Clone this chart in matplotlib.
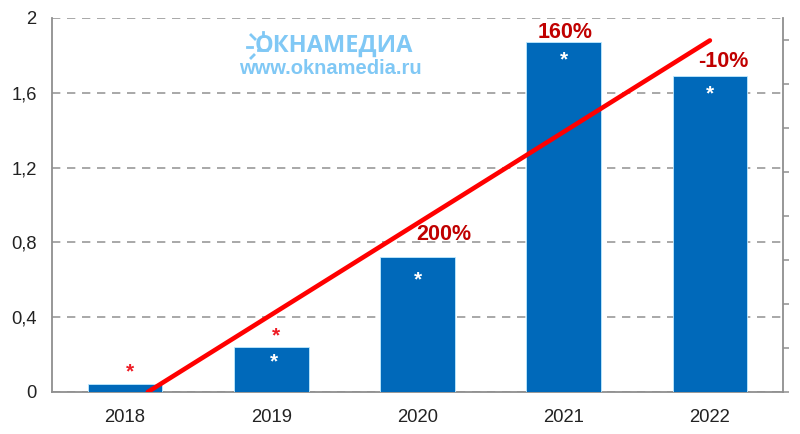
import matplotlib
matplotlib.use("Agg")
import matplotlib.pyplot as plt
from matplotlib.lines import Line2D

plt.rcParams['font.family'] = ['Liberation Sans', 'DejaVu Sans']

years = ['2018', '2019', '2020', '2021', '2022']
values = [0.045, 0.24, 0.72, 1.87, 1.69]
y_ticks = [0, 0.4, 0.8, 1.2, 1.6, 2]
y_labels = ['0', '0,4', '0,8', '1,2', '1,6', '2']
right_ticks = [0, 1, 2, 3, 4, 5, 6, 7, 8]

# trend line, in bar positions / left axis units
trend_x = [0.155, 4.0]
trend_y = [0.0, 1.88]

growth_labels = ['200%', '160%', '-10%']
growth_x = [2.18, 3.01, 4.09]
growth_y = [0.84, 1.925, 1.77]

white_x = [1.02, 2, 3, 4]
white_y = [0.16, 0.6, 1.775, 1.595]
red_x = [0.03, 1.03]
red_y = [0.11, 0.3]

BLUE = '#0069BA'
GREY = '#8f8f8f'

fig = plt.figure(figsize=(8, 4.34), dpi=100)
ax = fig.add_axes([52 / 800, 42 / 434, 731 / 800, 374 / 434])

ax.bar(range(len(years)), values, width=0.51, color=BLUE, edgecolor='#bfeaff', linewidth=0.6, zorder=3)
ax.set_xlim(-0.5, 4.5)
ax.set_ylim(0, 2)
ax.set_yticks(y_ticks, y_labels)
ax.set_xticks(range(len(years)), years)
ax.tick_params(axis='y', length=0, pad=11, labelsize=13.2, labelcolor='#222222')
ax.tick_params(axis='x', length=0, pad=12, labelsize=13.3, labelcolor='#222222')
ax.grid(axis='y', linestyle=(0, (5, 4)), color='#9a9a9a', linewidth=1.2, zorder=1)
ax.set_axisbelow(True)

ax.spines['top'].set_visible(False)
for side in ['left', 'right', 'bottom']:
    ax.spines[side].set_color(GREY)
    ax.spines[side].set_linewidth(1.3)

ax2 = ax.twinx()
ax2.set_ylim(0, 8.5)
ax2.set_yticks(right_ticks, [''] * len(right_ticks))
ax2.tick_params(axis='y', length=4, width=1.1, color=GREY)
for side in ['top', 'left', 'bottom', 'right']:
    ax2.spines[side].set_visible(False)

ax2.set_zorder(0)
ax.set_zorder(1)
ax.patch.set_visible(False)

ax.plot(trend_x, trend_y, color='#ff0000', linewidth=3.3, solid_capstyle='round', zorder=5)

for x, y, s in zip(growth_x, growth_y, growth_labels):
    ax.text(x, y, s, color='#c00000', fontsize=15.5, fontweight='bold', ha='center', va='center', zorder=6)

for x, y in zip(white_x, white_y):
    ax.text(x, y, '*', color='white', fontsize=15, fontweight='bold', ha='center', va='center', zorder=6)
for x, y in zip(red_x, red_y):
    ax.text(x, y, '*', color='#ee1c25', fontsize=15, fontweight='bold', ha='center', va='center', zorder=6)

# watermark
LOGO = '#80c8f5'
fig.text(333.5 / 800, 1 - 46 / 434, 'ОКНАМЕДИА', color=LOGO, fontsize=17, fontweight='bold',
         family=['Open Sans', 'DejaVu Sans'], ha='center', va='center', zorder=7)
fig.text(330 / 800, 1 - 69 / 434, 'www.oknamedia.ru', color=LOGO, fontsize=14.5, fontweight='bold',
         ha='center', va='center', zorder=7)
sun_rays = [((247, 47), (252, 47)), ((251, 35), (255, 39)), ((263, 32), (263, 36)), ((251, 58), (254, 55)),
            ((258, 50), (267, 50))]
for (x0, y0), (x1, y1) in sun_rays:
    fig.add_artist(Line2D([x0 / 800, x1 / 800], [1 - y0 / 434, 1 - y1 / 434], color=LOGO, linewidth=2))

fig.savefig('out.png', dpi=100)
